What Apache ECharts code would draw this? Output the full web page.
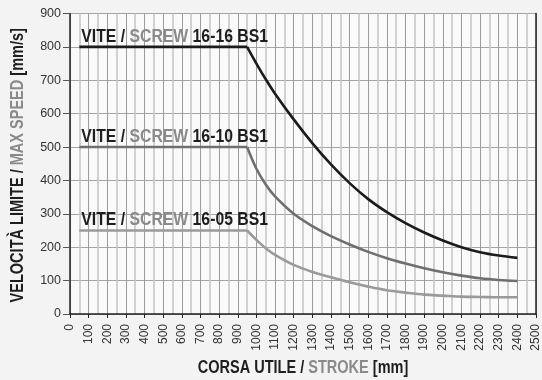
<!DOCTYPE html>
<html>
<head>
<meta charset="utf-8">
<script src="https://cdn.jsdelivr.net/npm/echarts@6/dist/echarts.min.js"></script>
<style>
  html, body { margin: 0; padding: 0; background: #f3f3f3; }
  #chart { width: 542px; height: 380px; }
</style>
</head>
<body>
<div id="chart"></div>
<script>
// Stroke positions [mm]: constant-speed plateau and the decaying part
const plateauStroke = [50, 950];
const curveStroke = [950, 1000, 1050, 1100, 1200, 1300, 1400, 1500, 1600, 1700, 1800, 1900, 2000, 2100, 2200, 2300, 2400];

// Max speed [mm/s] along curveStroke (first value is the plateau level)
const speed1616 = [800, 750, 703, 660, 583, 512, 448, 392, 344, 305, 272, 244, 220, 200, 185, 175, 168];
const speed1610 = [500, 435, 388, 352, 300, 263, 233, 208, 186, 167, 151, 137, 125, 115, 107, 102, 99];
const speed1605 = [250, 222, 197, 177, 147, 126, 110, 95, 82, 71, 64, 58, 55, 52, 51, 50, 50];

const screwNames = ['16-16 BS1', '16-10 BS1', '16-05 BS1'];
const screwSpeeds = [speed1616, speed1610, speed1605];
const lineColors = ['#1b1b1b', '#6f6f6f', '#9a9a9a'];

// Axis ranges
const xMin = 0, xMax = 2500, xStep = 100;
const yMin = 0, yMax = 900, yStep = 100;

// Condensed look: Liberation Sans squeezed horizontally
const sans = '"Liberation Sans", Arial, sans-serif';
const squeeze = 0.83;
const dark = '#1e1e1e';
const grey = '#8a8a8a';

function richStyles(size) {
  return {
    k: { fontFamily: sans, fontWeight: 'bold', fontSize: size, fill: dark },
    g: { fontFamily: sans, fontWeight: 'bold', fontSize: size, fill: grey }
  };
}

function buildData(speeds) {
  const level = speeds[0];
  const flat = plateauStroke.map(x => [x, level]);
  const curve = curveStroke.map((x, i) => [x, speeds[i]]);
  // a gap between the straight plateau and the smoothed decay keeps a sharp knee
  return flat.concat([[950, '-']], curve);
}

const series = screwNames.map((name, i) => ({
  name: name,
  type: 'line',
  data: buildData(screwSpeeds[i]),
  smooth: 0.35,
  showSymbol: false,
  symbol: 'none',
  connectNulls: false,
  lineStyle: { color: lineColors[i], width: 2.6 },
  z: 5 - i
}));

const chart = echarts.init(document.getElementById('chart'), null, { renderer: 'canvas' });
chart.setOption({
  backgroundColor: '#f3f3f3',
  animation: false,
  grid: {
    left: 70, right: 3, top: 13.5, bottom: 66,
    show: true, backgroundColor: '#fafafa', borderWidth: 0
  },
  xAxis: {
    type: 'value',
    min: xMin, max: xMax, interval: xStep,
    axisLine: { show: true, lineStyle: { color: '#222', width: 1.5 } },
    axisTick: { show: true, length: 4, lineStyle: { color: '#222' } },
    axisLabel: {
      rotate: 90, margin: 10, fontFamily: sans, fontSize: 12, color: '#333',
      formatter: v => String(v)
    },
    splitLine: { show: true, lineStyle: { color: '#9c9c9c', width: 1 } },
    minorTick: { show: false, splitNumber: 2 },
    minorSplitLine: { show: true, lineStyle: { color: '#c4c4c4', width: 1.5 } }
  },
  yAxis: [{
    type: 'value',
    min: yMin, max: yMax, interval: yStep,
    axisLine: { show: true, lineStyle: { color: '#222', width: 1.5 } },
    axisTick: { show: true, length: 7, lineStyle: { color: '#555' } },
    axisLabel: { margin: 9, fontFamily: sans, fontSize: 12.5, color: '#333' },
    splitLine: { show: true, lineStyle: { color: '#a4a4a4', width: 1.2 } }
  }, {
    type: 'value',
    position: 'right',
    min: yMin, max: yMax, interval: yStep,
    axisLine: { show: true, lineStyle: { color: '#222', width: 1.5 } },
    axisTick: { show: false },
    axisLabel: { show: false },
    splitLine: { show: false }
  }],
  series: series
});

// Text drawn as graphic elements so it can be narrowed like a condensed face
const texts = [];

// Screw name above each plateau, anchored at the plateau start
screwNames.forEach((name, i) => {
  const p = chart.convertToPixel({ gridIndex: 0 }, [plateauStroke[0], screwSpeeds[i][0]]);
  texts.push({
    type: 'text',
    x: p[0] + 2,
    y: p[1] - 1,
    scaleX: squeeze,
    z: 20,
    style: {
      text: '{k|VITE / }{g|SCREW}{k| ' + name + '}',
      rich: richStyles(19),
      align: 'left',
      verticalAlign: 'bottom'
    }
  });
});

// Axis titles
const gridRect = chart.getModel().getComponent('grid', 0).coordinateSystem.getRect();
texts.push({
  type: 'text',
  x: gridRect.x + gridRect.width / 2,
  y: 368,
  scaleX: squeeze,
  style: {
    text: '{k|CORSA UTILE / }{g|STROKE}{k| [mm]}',
    rich: richStyles(17.5),
    align: 'center',
    verticalAlign: 'middle'
  }
});
texts.push({
  type: 'text',
  x: 18,
  y: gridRect.y + gridRect.height / 2 + 1.5,
  rotation: Math.PI / 2,
  scaleX: squeeze,
  style: {
    text: '{k|VELOCITÀ LIMITE / }{g|MAX SPEED}{k| [mm/s]}',
    rich: richStyles(17.5),
    align: 'center',
    verticalAlign: 'middle'
  }
});

chart.setOption({ graphic: { elements: texts } });
</script>
</body>
</html>
